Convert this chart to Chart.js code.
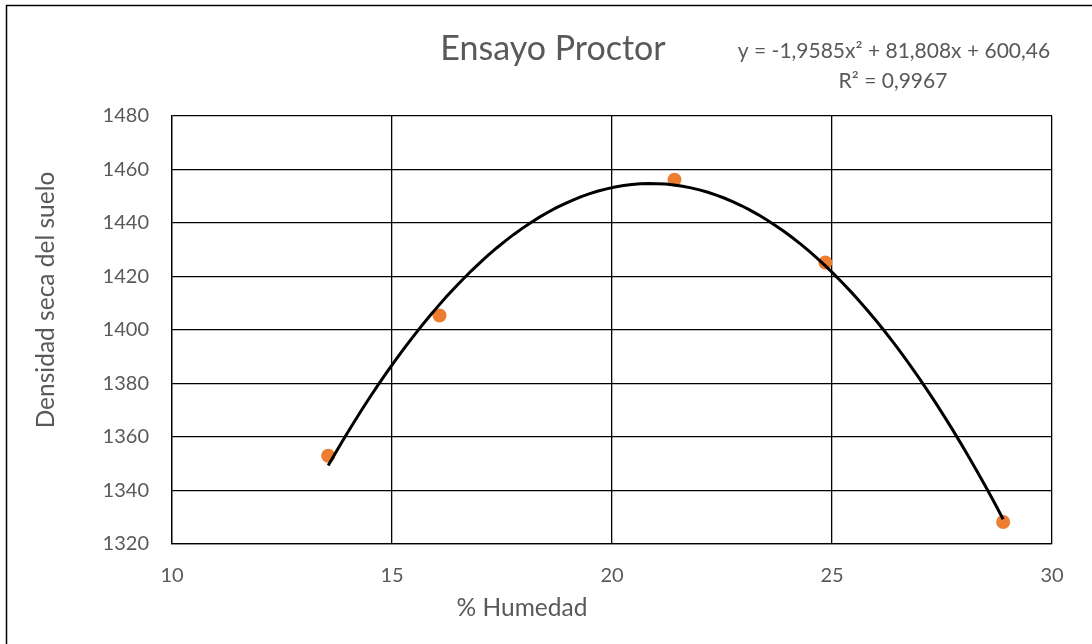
<!DOCTYPE html>
<html>
<head>
<meta charset="utf-8">
<script src="https://cdn.jsdelivr.net/npm/chart.js@4/dist/chart.umd.min.js"></script>
<style>
  html, body { margin: 0; padding: 0; background: #fff; }
  #wrap { position: relative; width: 1092px; height: 644px; }
</style>
</head>
<body>
<div id="wrap"><canvas id="c" width="1092" height="644"></canvas></div>
<script>
// Ensayo Proctor: humedad (%) vs densidad seca
const humedad = [13.55, 16.08, 21.42, 24.85, 28.89];
const densidad = [1353.0, 1405.4, 1456.2, 1425.2, 1328.2];

// Polynomial trend line coefficients (a·x² + b·x + c) as printed on the chart
const trendCoefs = [-1.9585, 81.808, 600.46];
const trendText = ['y = -1,9585x² + 81,808x + 600,46', 'R² = 0,9967'];

const xTicks = [10, 15, 20, 25, 30];
const yTicks = [1320, 1340, 1360, 1380, 1400, 1420, 1440, 1460, 1480];

const chartTitle = 'Ensayo Proctor';
const xTitle = '% Humedad';
const yTitle = 'Densidad seca del suelo';

// Trend curve sampled across the range of the measured data
const trendPts = [];
{
  const x0 = Math.min(...humedad), x1 = Math.max(...humedad), n = 80;
  for (let i = 0; i <= n; i++) {
    const x = x0 + (x1 - x0) * i / n;
    trendPts.push({ x, y: trendCoefs[0] * x * x + trendCoefs[1] * x + trendCoefs[2] });
  }
}

const FONT = 'Lato, "Open Sans", sans-serif';
const TXT = '#595959';

const textPlugin = {
  id: 'texts',
  afterDraw(chart) {
    const ctx = chart.ctx;
    ctx.save();
    // frame edges
    ctx.strokeStyle = '#000';
    ctx.lineWidth = 1.5;
    ctx.beginPath();
    ctx.moveTo(6.5, 644);
    ctx.lineTo(6.5, 5.5);
    ctx.lineTo(1092, 5.5);
    ctx.stroke();

    ctx.fillStyle = TXT;
    ctx.textBaseline = 'alphabetic';
    ctx.textAlign = 'center';
    ctx.font = '34px ' + FONT;
    ctx.fillText(chartTitle, 553, 60);

    ctx.font = '21px ' + FONT;
    ctx.fillText(trendText[0], 894, 58);
    ctx.fillText(trendText[1], 893, 88);

    ctx.font = '24.5px ' + FONT;
    ctx.fillText(xTitle, 522, 616);

    ctx.translate(54, 300);
    ctx.rotate(-Math.PI / 2);
    ctx.fillText(yTitle, 0, 0);
    ctx.restore();
  }
};

new Chart(document.getElementById('c'), {
  type: 'scatter',
  data: {
    datasets: [
      {
        label: 'Tendencia',
        data: trendPts,
        showLine: true,
        borderColor: '#000',
        borderWidth: 3,
        pointRadius: 0,
        tension: 0,
        order: 0
      },
      {
        label: 'Densidad',
        data: humedad.map((x, i) => ({ x, y: densidad[i] })),
        backgroundColor: '#ED7D31',
        borderWidth: 0,
        pointRadius: 7,
        order: 1
      }
    ]
  },
  options: {
    responsive: false,
    animation: false,
    layout: { padding: { left: 0, top: 116, right: 40, bottom: 0 } },
    plugins: { legend: { display: false }, tooltip: { enabled: false } },
    scales: {
      x: {
        type: 'linear',
        min: 10, max: 30,
        afterBuildTicks: s => { s.ticks = xTicks.map(v => ({ value: v })); },
        afterFit: s => { s.height = 100; },
        grid: { color: '#000', lineWidth: 1.3, drawTicks: false },
        border: { color: '#000', width: 1.3 },
        ticks: { color: TXT, font: { family: FONT, size: 20 }, padding: 20, callback: v => String(v) }
      },
      y: {
        type: 'linear',
        min: 1320, max: 1480,
        afterBuildTicks: s => { s.ticks = yTicks.map(v => ({ value: v })); },
        afterFit: s => { s.width = 172; },
        grid: { color: '#000', lineWidth: 1.3, drawTicks: false },
        border: { color: '#000', width: 1.3 },
        ticks: { color: TXT, font: { family: FONT, size: 20 }, padding: 23, callback: v => String(v) }
      }
    }
  },
  plugins: [textPlugin]
});
</script>
</body>
</html>
